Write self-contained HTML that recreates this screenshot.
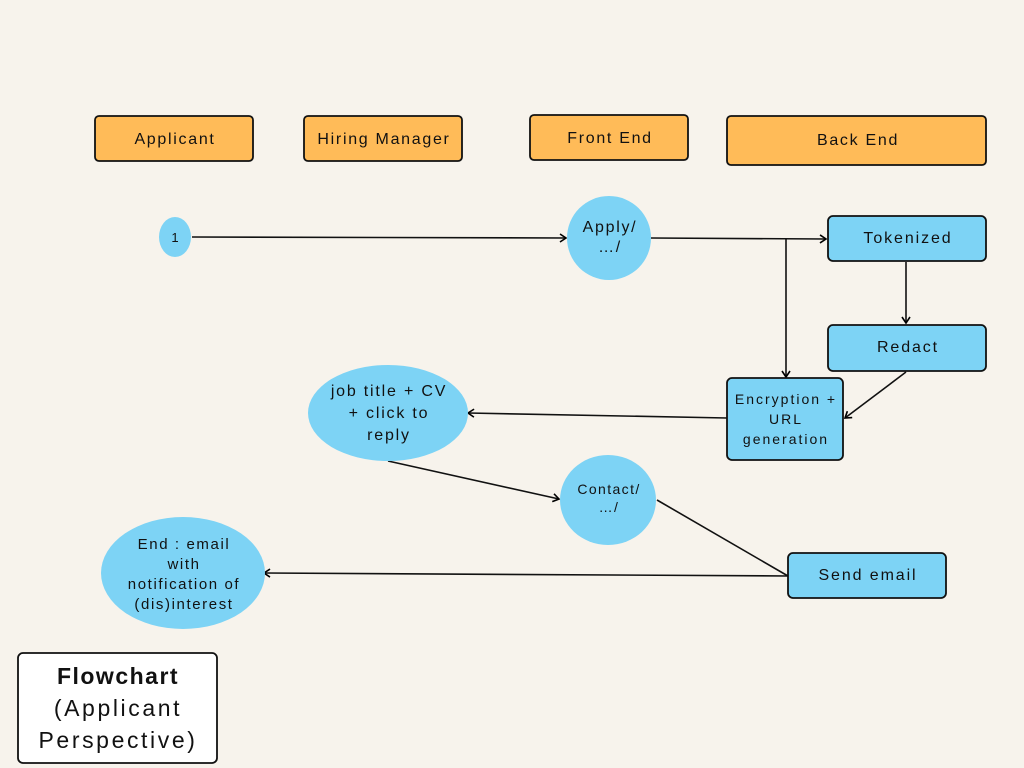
<!DOCTYPE html>
<html><head><meta charset="utf-8"><style>
html,body{margin:0;padding:0;background:#f7f3ec;}
svg{display:block;font-family:"Liberation Sans",sans-serif;}
</style></head><body>
<svg width="1024" height="768" viewBox="0 0 1024 768" xmlns="http://www.w3.org/2000/svg">
<defs><marker id="a" markerWidth="10" markerHeight="10" refX="8" refY="5" orient="auto" markerUnits="userSpaceOnUse"><path d="M2,1 L8,5 L2,9" fill="none" stroke="#000" stroke-width="1.6"/></marker></defs>
<rect width="1024" height="768" fill="#f7f3ec"/>
<g stroke="#111" stroke-width="1.8" fill="#ffbb58">
<rect x="95" y="116" width="158" height="45" rx="4"/>
<rect x="304" y="116" width="158" height="45" rx="4"/>
<rect x="530" y="115" width="158" height="45" rx="4"/>
<rect x="727" y="116" width="259" height="49" rx="4"/>
</g>
<g font-size="16" text-anchor="middle" fill="#111" letter-spacing="1.7">
<text x="175" y="144">Applicant</text>
<text x="384" y="144">Hiring Manager</text>
<text x="610" y="143">Front End</text>
<text x="858" y="145">Back End</text>
</g>
<g stroke="#111" stroke-width="1.6" fill="none">
<line x1="192" y1="237" x2="566" y2="238" marker-end="url(#a)"/>
<line x1="651" y1="238" x2="826" y2="239" marker-end="url(#a)"/>
<line x1="786" y1="239" x2="786" y2="377" marker-end="url(#a)"/>
<line x1="906" y1="262" x2="906" y2="323" marker-end="url(#a)"/>
<line x1="906" y1="372" x2="845" y2="418" marker-end="url(#a)"/>
<line x1="727" y1="418" x2="468" y2="413" marker-end="url(#a)"/>
<line x1="388" y1="461" x2="559" y2="499" marker-end="url(#a)"/>
<line x1="657" y1="500" x2="788" y2="576"/>
<line x1="788" y1="576" x2="264" y2="573" marker-end="url(#a)"/>
</g>
<g fill="#7dd3f5">
<ellipse cx="175" cy="237" rx="16" ry="20"/>
<circle cx="609" cy="238" r="42"/>
<ellipse cx="388" cy="413" rx="80" ry="48"/>
<ellipse cx="608" cy="500" rx="48" ry="45"/>
<ellipse cx="183" cy="573" rx="82" ry="56"/>
</g>
<g stroke="#111" stroke-width="1.8" fill="#7dd3f5">
<rect x="828" y="216" width="158" height="45" rx="5"/>
<rect x="828" y="325" width="158" height="46" rx="5"/>
<rect x="727" y="378" width="116" height="82" rx="5"/>
<rect x="788" y="553" width="158" height="45" rx="5"/>
</g>
<g text-anchor="middle" fill="#111">
<text x="175" y="242" font-size="13">1</text>
<text x="610" y="232" font-size="16" letter-spacing="1.7">Apply/</text>
<text x="610" y="252" font-size="16" letter-spacing="1.7">…/</text>
<text x="908" y="243" font-size="16" letter-spacing="1.9">Tokenized</text>
<text x="908" y="352" font-size="16" letter-spacing="1.9">Redact</text>
<text x="786" y="404" font-size="14" letter-spacing="2">Encryption +</text>
<text x="786" y="424" font-size="14" letter-spacing="2">URL</text>
<text x="786" y="444" font-size="14" letter-spacing="2">generation</text>
<text x="389" y="396" font-size="16" letter-spacing="1.8">job title + CV</text>
<text x="389" y="418" font-size="16" letter-spacing="1.8">+ click to</text>
<text x="389" y="440" font-size="16" letter-spacing="1.8">reply</text>
<text x="609" y="494" font-size="14" letter-spacing="1.4">Contact/</text>
<text x="609" y="512" font-size="14" letter-spacing="1.4">…/</text>
<text x="868" y="580" font-size="16" letter-spacing="1.9">Send email</text>
<text x="184" y="549" font-size="15" letter-spacing="1.6">End : email</text>
<text x="184" y="569" font-size="15" letter-spacing="1.6">with</text>
<text x="184" y="589" font-size="15" letter-spacing="1.6">notification of</text>
<text x="184" y="609" font-size="15" letter-spacing="1.6">(dis)interest</text>
</g>
<rect x="18" y="653" width="199" height="110" rx="5" fill="#fff" stroke="#111" stroke-width="1.8"/>
<g text-anchor="middle" fill="#111" font-size="23" letter-spacing="2.6">
<text x="118" y="684" font-weight="bold" letter-spacing="1.5">Flowchart</text>
<text x="118" y="716">(Applicant</text>
<text x="118" y="748">Perspective)</text>
</g>
</svg>
</body></html>
